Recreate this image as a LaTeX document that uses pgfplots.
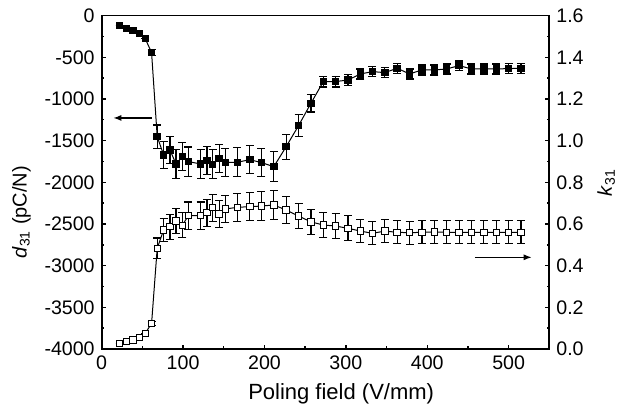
\documentclass[border=0pt]{standalone}
\usepackage{fontspec}
\setmainfont{Liberation Sans}
\usepackage{pgfplots}
\pgfplotsset{compat=1.18}
\usepackage{pgfplotstable}
\usetikzlibrary{arrows.meta}

\pgfplotstableread{
x y e
22.1 -120 0
30.4 -152 0
38.3 -176 0
46.1 -216 0
53.5 -276 0
61.3 -444 35
68.2 -1452 140
76.1 -1672 165
83.9 -1612 165
91.3 -1780 175
99.1 -1692 170
106.5 -1752 175
121.7 -1780 175
129.5 -1740 170
136.4 -1784 175
144.3 -1712 170
152.1 -1760 170
166.8 -1760 175
182.0 -1728 170
196.3 -1764 170
211.5 -1812 180
226.7 -1572 150
241.9 -1320 130
257.1 -1052 105
272.3 -792 65
287.5 -792 65
302.7 -772 65
318.0 -700 60
332.7 -672 60
347.9 -684 60
363.1 -632 60
378.3 -700 60
393.5 -652 60
408.7 -652 60
424.0 -640 60
439.2 -600 55
454.4 -640 60
469.6 -640 60
484.8 -640 60
500.0 -636 60
515.2 -632 60
}\dtable

\pgfplotstableread{
x y e
22.1 0.027 0
30.4 0.037 0
38.3 0.043 0
46.1 0.054 0
53.5 0.075 0
61.3 0.123 0.01
68.2 0.483 0.05
76.1 0.571 0.055
83.9 0.587 0.06
91.3 0.614 0.06
99.1 0.594 0.06
106.5 0.640 0.065
121.7 0.640 0.065
129.5 0.654 0.065
136.4 0.678 0.065
144.3 0.648 0.065
152.1 0.672 0.065
166.8 0.680 0.068
182.0 0.683 0.068
196.3 0.686 0.068
211.5 0.691 0.068
226.7 0.667 0.065
241.9 0.638 0.06
257.1 0.610 0.06
272.3 0.595 0.06
287.5 0.590 0.06
302.7 0.579 0.06
318.0 0.566 0.055
332.7 0.555 0.055
347.9 0.566 0.055
363.1 0.560 0.055
378.3 0.558 0.055
393.5 0.560 0.055
408.7 0.562 0.055
424.0 0.560 0.055
439.2 0.560 0.055
454.4 0.560 0.055
469.6 0.560 0.055
484.8 0.560 0.055
500.0 0.560 0.055
515.2 0.560 0.055
}\ktable

\begin{document}
\begin{tikzpicture}
\useasboundingbox (-50.85pt,-28.5pt) rectangle (262.65pt,174.5pt);
\pgfplotsset{
  every axis/.append style={
    width=223.8pt, height=166.7pt, scale only axis,
    xmin=0, xmax=550,
    tick align=inside,
    axis line style={line width=0.9pt},
    major tick length=2.2pt, minor tick length=1.4pt,
    every tick/.style={black, line width=0.7pt},
    tick label style={font=\fontsize{9.8}{11.5}\selectfont},
    label style={font=\fontsize{10}{12}\selectfont},
    /pgf/number format/assume math mode=true,
    /pgf/number format/set thousands separator={},
  },
  myerr/.style={
    error bars/y dir=both, error bars/y explicit,
    error bars/error bar style={line width=0.6pt, black},
    error bars/error mark options={rotate=90, mark size=2pt, line width=0.6pt, black},
  },
}
\begin{axis}[
  xtick pos=bottom, ytick pos=left,
  ymin=-4000, ymax=0,
  ytick={-4000,-3500,...,0},
  xtick={0,100,...,500},
  minor x tick num=1, minor y tick num=1,
  xlabel={Poling field (V/mm)},
  xlabel style={font=\fontsize{11}{13}\selectfont, at={(ticklabel cs:0.535)}},
  ylabel={\textit{d}\textsubscript{31} (pC/N)},
  ylabel style={at={(ticklabel cs:0.41)}},
  clip=false,
]
\addplot[black, line width=0.5pt, mark=square*, mark size=1.6pt, mark options={solid, fill=black}, myerr]
  table[x=x, y=y, y error=e]{\dtable};
\draw[-{Latex[length=4pt,width=3pt]}, line width=0.6pt] (axis cs:61.4,-1228) -- (axis cs:14.3,-1228);
\end{axis}
\begin{axis}[
  axis x line=none,
  axis y line*=right,
  ymin=0, ymax=1.6,
  ytick={0,0.2,...,1.6},
  minor y tick num=1,
  yticklabel style={/pgf/number format/fixed, /pgf/number format/precision=1, /pgf/number format/fixed zerofill},
  ylabel={\textit{k}\textsubscript{31}},
  clip=false,
]
\addplot[black, line width=0.5pt, mark=square*, mark size=1.6pt, mark options={solid, fill=white, line width=0.5pt}, myerr]
  table[x=x, y=y, y error=e]{\ktable};
\draw[-{Latex[length=4pt,width=3pt]}, line width=0.6pt] (axis cs:458.7,0.44) -- (axis cs:528.4,0.44);
\end{axis}
\end{tikzpicture}
\end{document}
